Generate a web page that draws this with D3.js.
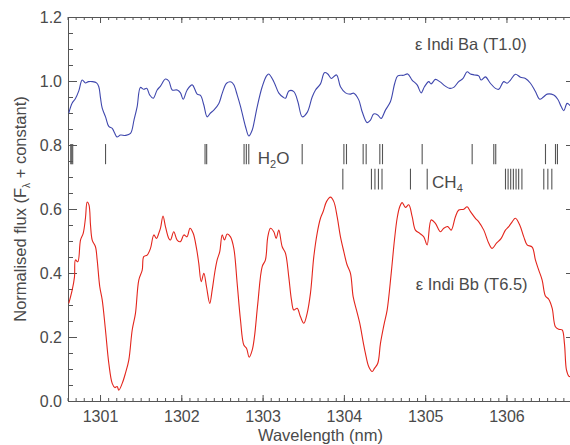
<!DOCTYPE html>
<html>
<head>
<meta charset="utf-8">
<script src="https://cdn.jsdelivr.net/npm/d3@7"></script>
<style>
  body { margin: 0; background: #fff; }
  svg { display: block; }
  text { font-family: "Liberation Sans", Arial, Helvetica, sans-serif; fill: #4a4a4a; }
</style>
</head>
<body>
<svg id="chart" width="570" height="445"></svg>
<script>
// Epsilon Indi Ba (T1.0) spectrum: [wavelength nm, normalised flux + constant]
const baSpectrum = [
  [1300.616,0.900],[1300.658,0.931],[1300.698,0.945],[1300.739,0.969],[1300.781,1.003],
  [1300.821,0.994],[1300.858,0.998],[1300.908,0.998],[1300.957,0.994],[1300.985,0.982],
  [1301.006,0.947],[1301.027,0.915],[1301.068,0.888],[1301.108,0.858],[1301.150,0.852],
  [1301.178,0.838],[1301.209,0.825],[1301.252,0.831],[1301.313,0.830],[1301.375,0.836],
  [1301.418,0.878],[1301.457,0.920],[1301.497,0.980],[1301.538,0.974],[1301.575,0.977],
  [1301.612,0.956],[1301.654,0.946],[1301.703,0.972],[1301.744,0.984],[1301.805,1.006],
  [1301.846,1.000],[1301.888,0.972],[1301.950,0.972],[1301.990,0.963],[1302.023,0.943],
  [1302.072,0.972],[1302.134,0.988],[1302.195,0.959],[1302.236,0.955],[1302.277,0.925],
  [1302.318,0.888],[1302.359,0.900],[1302.400,0.909],[1302.462,0.930],[1302.504,0.962],
  [1302.557,0.993],[1302.614,0.997],[1302.646,0.988],[1302.688,0.956],[1302.729,0.920],
  [1302.790,0.857],[1302.831,0.828],[1302.873,0.847],[1302.901,0.878],[1302.934,0.920],
  [1302.995,0.982],[1303.048,1.016],[1303.076,1.022],[1303.138,0.998],[1303.200,0.962],
  [1303.254,0.949],[1303.282,0.946],[1303.323,0.969],[1303.384,0.967],[1303.434,0.935],
  [1303.488,0.888],[1303.549,0.902],[1303.610,0.950],[1303.651,0.972],[1303.712,0.991],
  [1303.761,1.026],[1303.802,1.022],[1303.844,1.008],[1303.909,1.019],[1303.958,0.982],
  [1304.020,0.963],[1304.081,0.959],[1304.122,0.962],[1304.183,0.941],[1304.225,0.904],
  [1304.286,0.870],[1304.327,0.878],[1304.367,0.897],[1304.416,0.894],[1304.458,0.883],
  [1304.511,0.909],[1304.572,0.935],[1304.626,0.993],[1304.663,1.016],[1304.736,1.018],
  [1304.785,1.022],[1304.839,1.003],[1304.901,0.988],[1304.951,0.963],[1304.991,0.982],
  [1305.044,0.998],[1305.073,0.991],[1305.126,1.005],[1305.179,0.998],[1305.248,0.984],
  [1305.302,0.977],[1305.351,0.980],[1305.412,0.998],[1305.466,1.008],[1305.516,1.029],
  [1305.557,1.022],[1305.606,1.019],[1305.659,1.016],[1305.688,1.003],[1305.741,1.013],
  [1305.802,0.993],[1305.864,0.977],[1305.905,0.974],[1305.966,0.998],[1306.008,0.993],
  [1306.049,1.003],[1306.110,1.021],[1306.172,1.012],[1306.233,1.008],[1306.295,0.993],
  [1306.356,0.967],[1306.409,0.943],[1306.451,0.949],[1306.500,0.959],[1306.582,0.956],
  [1306.631,0.943],[1306.673,0.920],[1306.705,0.907],[1306.746,0.930],[1306.787,0.922]
];

// Epsilon Indi Bb (T6.5) spectrum: [wavelength nm, normalised flux]
const bbSpectrum = [
  [1300.616,0.305],[1300.658,0.347],[1300.686,0.388],[1300.698,0.441],[1300.727,0.435],
  [1300.760,0.503],[1300.793,0.524],[1300.821,0.572],[1300.842,0.622],[1300.864,0.613],
  [1300.883,0.550],[1300.904,0.503],[1300.944,0.482],[1300.965,0.441],[1300.997,0.357],
  [1301.027,0.316],[1301.067,0.222],[1301.108,0.118],[1301.150,0.055],[1301.182,0.042],
  [1301.211,0.045],[1301.231,0.034],[1301.273,0.055],[1301.313,0.087],[1301.354,0.128],
  [1301.396,0.222],[1301.436,0.274],[1301.477,0.378],[1301.519,0.409],[1301.538,0.451],
  [1301.580,0.456],[1301.621,0.477],[1301.662,0.519],[1301.695,0.508],[1301.723,0.524],
  [1301.744,0.540],[1301.775,0.578],[1301.805,0.545],[1301.846,0.508],[1301.867,0.503],
  [1301.907,0.529],[1301.949,0.503],[1301.990,0.498],[1302.031,0.519],[1302.070,0.513],
  [1302.107,0.540],[1302.146,0.524],[1302.187,0.477],[1302.215,0.430],[1302.245,0.373],
  [1302.277,0.399],[1302.310,0.357],[1302.350,0.305],[1302.380,0.347],[1302.413,0.404],
  [1302.441,0.441],[1302.473,0.467],[1302.503,0.519],[1302.531,0.503],[1302.564,0.522],
  [1302.605,0.513],[1302.646,0.477],[1302.687,0.368],[1302.728,0.253],[1302.769,0.175],
  [1302.802,0.165],[1302.835,0.137],[1302.872,0.159],[1302.900,0.201],[1302.941,0.305],
  [1302.995,0.420],[1303.035,0.441],[1303.064,0.513],[1303.097,0.540],[1303.138,0.529],
  [1303.167,0.508],[1303.199,0.534],[1303.241,0.482],[1303.281,0.462],[1303.322,0.388],
  [1303.355,0.316],[1303.384,0.284],[1303.425,0.290],[1303.466,0.263],[1303.507,0.243],
  [1303.548,0.274],[1303.589,0.337],[1303.630,0.451],[1303.671,0.524],[1303.712,0.571],
  [1303.745,0.592],[1303.786,0.623],[1303.835,0.637],[1303.876,0.623],[1303.917,0.576],
  [1303.958,0.513],[1303.999,0.467],[1304.040,0.425],[1304.081,0.399],[1304.114,0.326],
  [1304.155,0.284],[1304.195,0.243],[1304.237,0.185],[1304.265,0.149],[1304.306,0.107],
  [1304.348,0.092],[1304.376,0.102],[1304.417,0.118],[1304.450,0.180],[1304.493,0.238],
  [1304.532,0.284],[1304.582,0.399],[1304.622,0.503],[1304.655,0.571],[1304.687,0.607],
  [1304.717,0.620],[1304.757,0.605],[1304.798,0.613],[1304.840,0.576],[1304.880,0.534],
  [1304.933,0.524],[1304.983,0.513],[1305.024,0.488],[1305.074,0.566],[1305.126,0.555],
  [1305.188,0.529],[1305.229,0.540],[1305.278,0.545],[1305.320,0.534],[1305.372,0.576],
  [1305.413,0.597],[1305.475,0.599],[1305.516,0.607],[1305.557,0.592],[1305.618,0.571],
  [1305.659,0.560],[1305.721,0.534],[1305.782,0.493],[1305.824,0.477],[1305.877,0.493],
  [1305.935,0.508],[1305.987,0.534],[1306.028,0.545],[1306.070,0.560],[1306.110,0.571],
  [1306.163,0.550],[1306.213,0.513],[1306.254,0.488],[1306.316,0.481],[1306.356,0.441],
  [1306.397,0.409],[1306.439,0.378],[1306.479,0.328],[1306.520,0.318],[1306.562,0.290],
  [1306.602,0.232],[1306.643,0.224],[1306.685,0.222],[1306.713,0.180],[1306.738,0.097],
  [1306.766,0.078],[1306.787,0.076]
];

// Line positions (nm) of the H2O and CH4 features marked above the Bb spectrum
const h2oLines = [1300.640, 1300.652, 1300.664, 1301.068, 1302.292, 1302.312,
  1302.772, 1302.800, 1302.830, 1303.487, 1304.000, 1304.032, 1304.237, 1304.274,
  1304.442, 1304.475, 1304.963, 1305.578, 1305.844, 1305.868, 1306.480, 1306.603, 1306.627];
const ch4Lines = [1303.987, 1304.339, 1304.382, 1304.425, 1304.469, 1304.819, 1305.025,
  1305.988, 1306.020, 1306.052, 1306.085, 1306.118, 1306.150, 1306.190,
  1306.459, 1306.509, 1306.558];

const xMajorTicks = [1301, 1302, 1303, 1304, 1305, 1306];
const yMajorTicks = [0.0, 0.2, 0.4, 0.6, 0.8, 1.0, 1.2];
const xMinorTicks = d3.range(13006, 13069).map(i => i / 10);
const yMinorTicks = d3.range(0, 25).map(i => i * 0.05);

const svg = d3.select("#chart");
const x = d3.scaleLinear().domain([1300.6, 1306.8]).range([67.5, 571.5]);
const y = d3.scaleLinear().domain([0, 1.2]).range([401, 17]);
const axisColor = "#555";

function styleAxis(g) {
  g.selectAll(".domain").attr("stroke", axisColor);
  g.selectAll(".tick line").attr("stroke", axisColor);
  g.selectAll(".tick text").attr("fill", "#4a4a4a")
    .style("font-size", "16px").attr("font-family", null);
}

// bottom axis: minor and major ticks pointing inwards
svg.append("g").attr("transform", `translate(0,${y(0)})`)
  .call(d3.axisBottom(x).tickValues(xMinorTicks).tickSize(-3).tickSizeOuter(0).tickFormat(""))
  .call(styleAxis);
svg.append("g").attr("transform", `translate(0,${y(0)})`)
  .call(d3.axisBottom(x).tickValues(xMajorTicks).tickSize(-6).tickSizeOuter(0)
    .tickPadding(10).tickFormat(d3.format("d")))
  .call(styleAxis);

// top axis
svg.append("g").attr("transform", `translate(0,${y(1.2)})`)
  .call(d3.axisTop(x).tickValues(xMinorTicks).tickSize(-3).tickSizeOuter(0).tickFormat(""))
  .call(styleAxis);
svg.append("g").attr("transform", `translate(0,${y(1.2)})`)
  .call(d3.axisTop(x).tickValues(xMajorTicks).tickSize(-6).tickSizeOuter(0).tickFormat(""))
  .call(styleAxis);

// left axis
svg.append("g").attr("transform", `translate(${x(1300.6) + 0.5},0)`)
  .call(d3.axisLeft(y).tickValues(yMinorTicks).tickSize(-5).tickSizeOuter(0).tickFormat(""))
  .call(styleAxis);
svg.append("g").attr("transform", `translate(${x(1300.6) + 0.5},0)`)
  .call(d3.axisLeft(y).tickValues(yMajorTicks).tickSize(-9).tickSizeOuter(0)
    .tickPadding(6).tickFormat(d3.format(".1f")))
  .call(styleAxis);

// right axis
svg.append("g").attr("transform", `translate(${x(1306.8) - 1.5},0)`)
  .call(d3.axisRight(y).tickValues(yMajorTicks).tickSize(-4).tickSizeOuter(0).tickFormat(""))
  .call(styleAxis);

// spectra
const line = d3.line()
  .x(d => x(d[0])).y(d => y(d[1]))
  .curve(d3.curveCatmullRom.alpha(0.5));

svg.append("path").datum(baSpectrum)
  .attr("d", line).attr("fill", "none")
  .attr("stroke", "#3f47ad").attr("stroke-width", 1.1);
svg.append("path").datum(bbSpectrum)
  .attr("d", line).attr("fill", "none")
  .attr("stroke", "#e3251c").attr("stroke-width", 1.1);

// molecular line markers
const h2oRow = [0.803, 0.740];
const ch4Row = [0.726, 0.661];
svg.append("g").selectAll("line").data(h2oLines).join("line")
  .attr("x1", d => x(d)).attr("x2", d => x(d))
  .attr("y1", y(h2oRow[0])).attr("y2", y(h2oRow[1]))
  .attr("stroke", "#555").attr("stroke-width", 1.1);
svg.append("g").selectAll("line").data(ch4Lines).join("line")
  .attr("x1", d => x(d)).attr("x2", d => x(d))
  .attr("y1", y(ch4Row[0])).attr("y2", y(ch4Row[1]))
  .attr("stroke", "#555").attr("stroke-width", 1.1);

// labels
const h2o = svg.append("text").attr("x", x(1302.94)).attr("y", y(0.74))
  .style("font-size", "17px");
h2o.append("tspan").text("H");
h2o.append("tspan").attr("dy", 4).style("font-size", "11px").text("2");
h2o.append("tspan").attr("dy", -4).text("O");

const ch4 = svg.append("text").attr("x", x(1305.085)).attr("y", y(0.665))
  .style("font-size", "17px");
ch4.append("tspan").text("CH");
ch4.append("tspan").attr("dy", 4).style("font-size", "11px").text("4");

svg.append("text").attr("x", x(1306.25)).attr("y", y(1.098))
  .attr("text-anchor", "end").style("font-size", "16.5px")
  .text("ε Indi Ba (T1.0)");
svg.append("text").attr("x", x(1306.26)).attr("y", y(0.348))
  .attr("text-anchor", "end").style("font-size", "16.5px")
  .text("ε Indi Bb (T6.5)");

// axis titles
svg.append("text").attr("x", (x(1300.6) + x(1306.8)) / 2 + 1).attr("y", 441)
  .attr("text-anchor", "middle").style("font-size", "16.5px")
  .text("Wavelength (nm)");

const yTitle = svg.append("text")
  .attr("transform", `translate(26,${(y(0) + y(1.2)) / 2})rotate(-90)`)
  .attr("text-anchor", "middle").style("font-size", "16.5px");
yTitle.append("tspan").text("Normalised flux (F");
yTitle.append("tspan").attr("dy", 4).style("font-size", "10px").text("λ");
yTitle.append("tspan").attr("dy", -4).text(" + constant)");
</script>
</body>
</html>
